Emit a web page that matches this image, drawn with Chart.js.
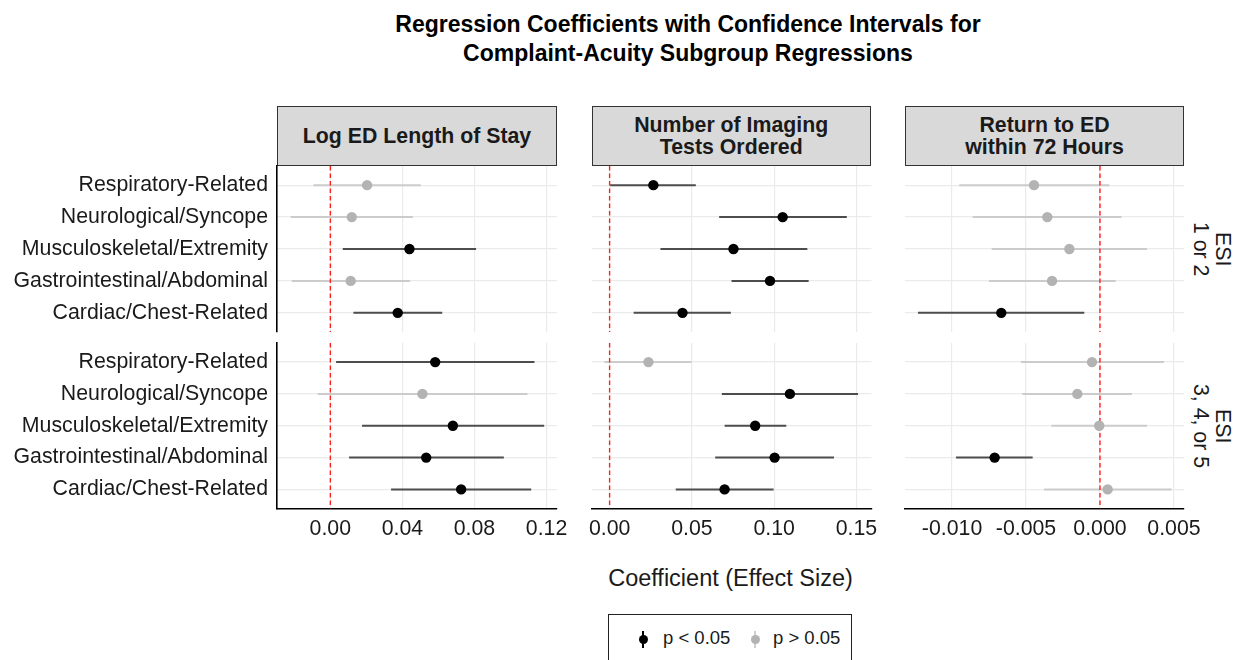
<!DOCTYPE html>
<html>
<head>
<meta charset="utf-8">
<script src="https://cdn.jsdelivr.net/npm/chart.js@4.4.1/dist/chart.umd.min.js"></script>
<style>
  html, body { margin: 0; padding: 0; background: #fff; }
  body { width: 1244px; height: 660px; position: relative; overflow: hidden;
         font-family: "Liberation Sans", Arial, Helvetica, sans-serif; color: #000; }
  .abs { position: absolute; }
  .title { font-weight: bold; font-size: 23px; line-height: 29px; white-space: nowrap; text-align: center; }
  .strip { background: #d9d9d9; border: 1px solid #333; box-sizing: border-box;
           display: flex; align-items: center; justify-content: center; text-align: center;
           font-weight: bold; font-size: 21.3px; line-height: 22px; color: #1a1a1a; }
  .rstrip { display: flex; align-items: center; justify-content: center; }
  .rstrip div { writing-mode: vertical-rl; text-align: center; font-size: 21.3px; line-height: 22px; color: #1a1a1a; }
  .xtitle { font-size: 23.5px; white-space: nowrap; color: #1a1a1a; text-align: center; }
  .legend { border: 1.5px solid #222; box-sizing: border-box; background: #fff; }
  .lg-line { position: absolute; width: 2px; height: 17px; }
  .lg-dot { position: absolute; width: 9px; height: 9px; border-radius: 50%; }
  .lg-text { position: absolute; font-size: 18.5px; white-space: nowrap; color: #1a1a1a; }
</style>
</head>
<body>
<div class="abs title" style="left:388px;top:10px;width:600px;">Regression Coefficients with Confidence Intervals for<br>Complaint-Acuity Subgroup Regressions</div>

<div id="strips"></div>

<div class="abs xtitle" style="left:530.5px;top:565px;width:400px;">Coefficient (Effect Size)</div>

<div class="abs legend" style="left:608px;top:614px;width:244px;height:60px;">
  <div class="lg-line" style="left:33px;top:16px;background:#000;"></div>
  <div class="lg-dot" style="left:29.5px;top:20px;background:#000;"></div>
  <div class="lg-text" style="left:54px;top:12px;">p &lt; 0.05</div>
  <div class="lg-line" style="left:145px;top:16px;background:#cfcfcf;"></div>
  <div class="lg-dot" style="left:141.5px;top:20px;background:#b3b3b3;"></div>
  <div class="lg-text" style="left:164px;top:12px;">p &gt; 0.05</div>
</div>

<script>
// ---------------- DATA ----------------
const categories = ['Respiratory-Related', 'Neurological/Syncope', 'Musculoskeletal/Extremity',
                    'Gastrointestinal/Abdominal', 'Cardiac/Chest-Related'];
const outcomes = [['Log ED Length of Stay'], ['Number of Imaging', 'Tests Ordered'], ['Return to ED', 'within 72 Hours']];
const esiGroups = [['ESI', '1 or 2'], ['ESI', '3, 4, or 5']];

// Log ED Length of Stay
const losEsi12Est = [0.0204, 0.0119, 0.0439, 0.0113, 0.0374];
const losEsi12Lo  = [-0.0094, -0.0220, 0.0069, -0.0214, 0.0128];
const losEsi12Hi  = [0.0502, 0.0458, 0.0809, 0.0443, 0.0621];
const losEsi12Sig = [false, false, true, false, true];
const losEsi35Est = [0.0582, 0.0511, 0.0680, 0.0532, 0.0726];
const losEsi35Lo  = [0.0032, -0.0070, 0.0176, 0.0104, 0.0337];
const losEsi35Hi  = [0.1133, 0.1094, 0.1187, 0.0963, 0.1115];
const losEsi35Sig = [true, false, true, true, true];

// Number of Imaging Tests Ordered
const imgEsi12Est = [0.0266, 0.1052, 0.0753, 0.0975, 0.0443];
const imgEsi12Lo  = [0.0003, 0.0666, 0.0309, 0.0741, 0.0146];
const imgEsi12Hi  = [0.0524, 0.1442, 0.1202, 0.1210, 0.0737];
const imgEsi12Sig = [true, true, true, true, true];
const imgEsi35Est = [0.0236, 0.1096, 0.0885, 0.1003, 0.0699];
const imgEsi35Lo  = [-0.0032, 0.0682, 0.0699, 0.0642, 0.0402];
const imgEsi35Hi  = [0.0498, 0.1510, 0.1074, 0.1364, 0.0997];
const imgEsi35Sig = [false, true, true, true, true];

// Return to ED within 72 Hours
const retEsi12Est = [-0.00446, -0.00356, -0.00207, -0.00324, -0.00667];
const retEsi12Lo  = [-0.00951, -0.00860, -0.00732, -0.00750, -0.01230];
const retEsi12Hi  = [0.00063, 0.00146, 0.00318, 0.00106, -0.00106];
const retEsi12Sig = [false, false, false, false, true];
const retEsi35Est = [-0.00054, -0.00153, -0.00005, -0.00712, 0.00052];
const retEsi35Lo  = [-0.00534, -0.00525, -0.00329, -0.00973, -0.00378];
const retEsi35Hi  = [0.00432, 0.00216, 0.00318, -0.00455, 0.00484];
const retEsi35Sig = [false, false, false, true, false];

// Tick values and labels
const losTicks = [0, 0.04, 0.08, 0.12];
const losTickLabels = ['0.00', '0.04', '0.08', '0.12'];
const imgTicks = [0, 0.05, 0.10, 0.15];
const imgTickLabels = ['0.00', '0.05', '0.10', '0.15'];
const retTicks = [-0.010, -0.005, 0, 0.005];
const retTickLabels = ['-0.010', '-0.005', '0.000', '0.005'];

// ---------------- LAYOUT ----------------
const FONT = '"Liberation Sans", Arial, Helvetica, sans-serif';
Chart.defaults.font.family = FONT;
const cols = [
  { left: 277, right: 557, range: [-0.0296, 0.1258], ticks: losTicks, labels: losTickLabels },
  { left: 591.5, right: 871, range: [-0.0107, 0.1592], ticks: imgTicks, labels: imgTickLabels },
  { left: 905, right: 1184, range: [-0.01318, 0.00568], ticks: retTicks, labels: retTickLabels }
];
const rows = [ { top: 166, bottom: 332 }, { top: 343, bottom: 508.5 } ];
const panelData = [
  [ [losEsi12Est, losEsi12Lo, losEsi12Hi, losEsi12Sig], [imgEsi12Est, imgEsi12Lo, imgEsi12Hi, imgEsi12Sig], [retEsi12Est, retEsi12Lo, retEsi12Hi, retEsi12Sig] ],
  [ [losEsi35Est, losEsi35Lo, losEsi35Hi, losEsi35Sig], [imgEsi35Est, imgEsi35Lo, imgEsi35Hi, imgEsi35Sig], [retEsi35Est, retEsi35Lo, retEsi35Hi, retEsi35Sig] ]
];

// strips
const stripHost = document.getElementById('strips');
cols.forEach((c, ci) => {
  const d = document.createElement('div');
  d.className = 'abs strip';
  d.style.left = c.left + 'px';
  d.style.top = '106px';
  d.style.width = (c.right - c.left) + 'px';
  d.style.height = '60px';
  d.innerHTML = outcomes[ci].join('<br>');
  stripHost.appendChild(d);
});
rows.forEach((r, ri) => {
  const d = document.createElement('div');
  d.className = 'abs rstrip';
  d.style.left = '1188px';
  d.style.top = r.top + 'px';
  d.style.width = '48px';
  d.style.height = (r.bottom - r.top) + 'px';
  const inner = document.createElement('div');
  inner.innerHTML = esiGroups[ri].join('<br>');
  d.appendChild(inner);
  stripHost.appendChild(d);
});

const SIG_POINT = '#000000', NS_POINT = '#b3b3b3';
const SIG_LINE = '#4d4d4d', NS_LINE = '#cccccc';
const GRID = '#ebebeb';
const TEXT = '#1a1a1a';
const TICK_FONT = { size: 21.3, family: FONT };

function makePanel(ri, ci) {
  const c = cols[ci], r = rows[ri];
  const [est, lo, hi, sig] = panelData[ri][ci];
  const isLeft = ci === 0, isBottom = ri === 1;
  const padLR = 40, padT = 40;
  const yAxisW = isLeft ? 277 : 0;
  const xAxisH = isBottom ? 40 : 0;
  const canvasLeft = isLeft ? 0 : c.left - padLR;
  const padLeft = isLeft ? 0 : padLR;
  const width = Math.round(c.right - canvasLeft + padLR);
  const padRight = width - (c.right - canvasLeft);
  const canvasTop = r.top - padT;
  const height = Math.round(r.bottom - r.top + padT + xAxisH + 40);
  const padBottom = height - padT - (r.bottom - r.top) - xAxisH;

  const cv = document.createElement('canvas');
  cv.width = width; cv.height = height;
  cv.style.position = 'absolute';
  cv.style.left = canvasLeft + 'px';
  cv.style.top = canvasTop + 'px';
  cv.style.width = width + 'px';
  cv.style.height = height + 'px';
  document.body.appendChild(cv);

  const datasets = [];
  datasets.push({
    data: est.map((v, i) => ({ x: v, y: i })),
    pointRadius: 5.2,
    pointHoverRadius: 5.2,
    pointBackgroundColor: sig.map(s => s ? SIG_POINT : NS_POINT),
    pointBorderWidth: 0,
    showLine: false
  });
  datasets.push({
    data: [{ x: 0, y: -0.6 }, { x: 0, y: 4.6 }],
    showLine: true,
    borderColor: '#ff2020',
    borderWidth: 1.4,
    borderDash: [4.5, 3],
    pointRadius: 0
  });
  est.forEach((v, i) => {
    datasets.push({
      data: [{ x: lo[i], y: i }, { x: hi[i], y: i }],
      showLine: true,
      borderColor: sig[i] ? SIG_LINE : NS_LINE,
      borderWidth: 2,
      pointRadius: 0,
      borderCapStyle: 'butt'
    });
  });

  new Chart(cv, {
    type: 'scatter',
    data: { datasets },
    options: {
      responsive: false,
      animation: false,
      events: [],
      layout: { padding: { left: padLeft, right: padRight, top: padT, bottom: padBottom } },
      plugins: { legend: { display: false }, tooltip: { enabled: false } },
      scales: {
        x: {
          type: 'linear',
          min: c.range[0], max: c.range[1],
          afterBuildTicks: s => { s.ticks = c.ticks.map(v => ({ value: v })); },
          afterFit: s => { s.height = xAxisH; },
          ticks: {
            display: isBottom,
            autoSkip: false, maxRotation: 0,
            padding: 8,
            color: TEXT,
            font: TICK_FONT,
            callback: (v, i) => c.labels[i]
          },
          grid: { color: GRID, lineWidth: 1.2, drawTicks: false },
          border: { display: isBottom, color: '#000', width: 1.6 }
        },
        y: {
          type: 'linear',
          min: -0.6, max: 4.6, reverse: true,
          afterBuildTicks: s => { s.ticks = categories.map((_, i) => ({ value: i })); },
          afterFit: s => { s.width = yAxisW; },
          ticks: {
            display: isLeft,
            autoSkip: false,
            padding: 9,
            color: TEXT,
            font: TICK_FONT,
            callback: (v, i) => categories[i]
          },
          grid: { color: GRID, lineWidth: 1.2, drawTicks: false },
          border: { display: isLeft, color: '#000', width: 1.6 }
        }
      }
    }
  });
}

for (let ri = 0; ri < 2; ri++) for (let ci = 0; ci < 3; ci++) makePanel(ri, ci);
</script>
</body>
</html>
